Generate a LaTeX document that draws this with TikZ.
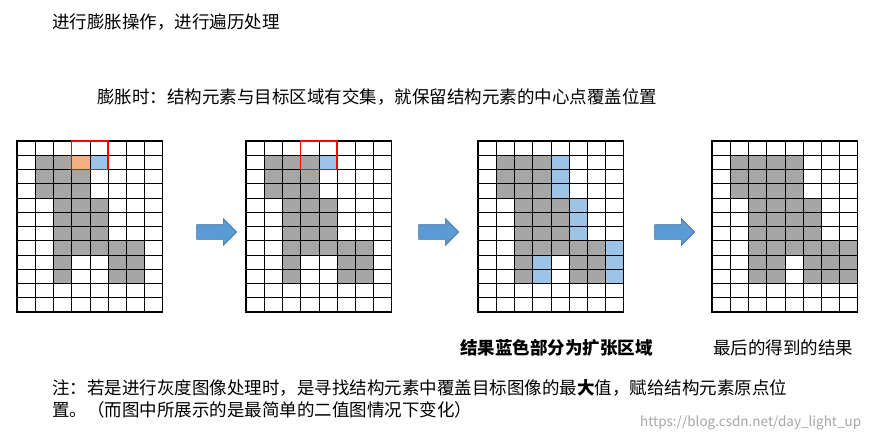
\documentclass[tikz,border=0pt]{standalone}
\usepackage{fontspec}
\setmainfont{Noto Sans CJK SC}
\usetikzlibrary{shapes.arrows}
\definecolor{cg}{HTML}{A6A6A6}
\definecolor{co}{HTML}{F4B183}
\definecolor{cb}{HTML}{9DC3E6}
\definecolor{ca}{HTML}{5B9BD5}
\definecolor{cab}{HTML}{41719C}
\newcommand\mygrid[4]{% x0, gray list, blue list, orange list
  \begin{scope}[shift={(#1,-141)},x=18.2pt,y=-14.25pt]
  \edef\lg{#2}\edef\lb{#3}\edef\lo{#4}%
  \foreach \c/\r in \lg \fill[cg] (\c,\r) rectangle ++(1,1);
  \foreach \c/\r in \lb \fill[cb] (\c,\r) rectangle ++(1,1);
  \foreach \c/\r in \lo \fill[co] (\c,\r) rectangle ++(1,1);
  \foreach \i in {1,...,7} \draw[line width=0.6pt] (\i,0) -- (\i,12);
  \foreach \i in {1,...,11} \draw[line width=0.6pt] (0,\i) -- (8,\i);
  \draw[line width=1.2pt] (0,0) rectangle (8,12);
  \end{scope}}
\tikzset{txt/.style={anchor=west,inner sep=0pt,font=\fontsize{17.5}{21}\selectfont},
 bigarrow/.style={single arrow,fill=ca,draw=cab,line width=0.6pt,minimum width=26pt,single arrow head extend=6pt,minimum height=40pt,inner xsep=0pt,inner ysep=7pt}}
\begin{document}
\begin{tikzpicture}[x=1pt,y=1pt]
\useasboundingbox[fill=white] (0,0) rectangle (885,-440);
\def\base{1/1,2/1,1/2,2/2,3/2,1/3,2/3,3/3,2/4,3/4,4/4,2/5,3/5,4/5,2/6,3/6,4/6,2/7,3/7,4/7,5/7,6/7,2/8,5/8,6/8,2/9,5/9,6/9}
\mygrid{17}{\base}{4/1}{3/1}
\draw[red,line width=1.2pt] (17+3*18.2,-141) rectangle (17+5*18.2,-141-2*14.25);
\mygrid{246}{\base,3/1}{4/1}{}
\draw[red,line width=1.2pt] (246+3*18.2,-141) rectangle (246+5*18.2,-141-2*14.25);
\mygrid{478}{\base,3/1}{4/1,4/2,4/3,5/4,5/5,5/6,7/7,3/8,3/9,7/8,7/9}{}
\mygrid{712}{\base,3/1,4/1,4/2,4/3,5/4,5/5,5/6,7/7,3/8,3/9,7/8,7/9}{}{}
\node[bigarrow] (a1) at (213,-232) {};
\node[bigarrow] (a2) at (435,-232) {};
\node[bigarrow] (a3) at (671,-232) {};
\node[txt] (t1) at (52,-22) {进行膨胀操作，进行遍历处理};
\node[txt] (t2) at (97,-97) {膨胀时：结构元素与目标区域有交集，就保留结构元素的中心点覆盖位置};
\node[txt,font=\fontsize{17.5}{21}\selectfont\bfseries] (l3) at (460,-348) {结果蓝色部分为扩张区域};
\node[txt] (l4) at (713,-348) {最后的得到的结果};
\node[txt] (n1) at (52,-388) {注：若是进行灰度图像处理时，是寻找结构元素中覆盖目标图像的最{\bfseries 大}值，赋给结构元素原点位};
\node[txt] (n2) at (52,-410) {置。（而图中所展示的是最简单的二值图情况下变化）};
\node[txt,font=\fontsize{13.5}{16}\selectfont,text=black!35] (w) at (640,-423) {https://blog.csdn.net/day\_light\_up};
\end{tikzpicture}
\end{document}
